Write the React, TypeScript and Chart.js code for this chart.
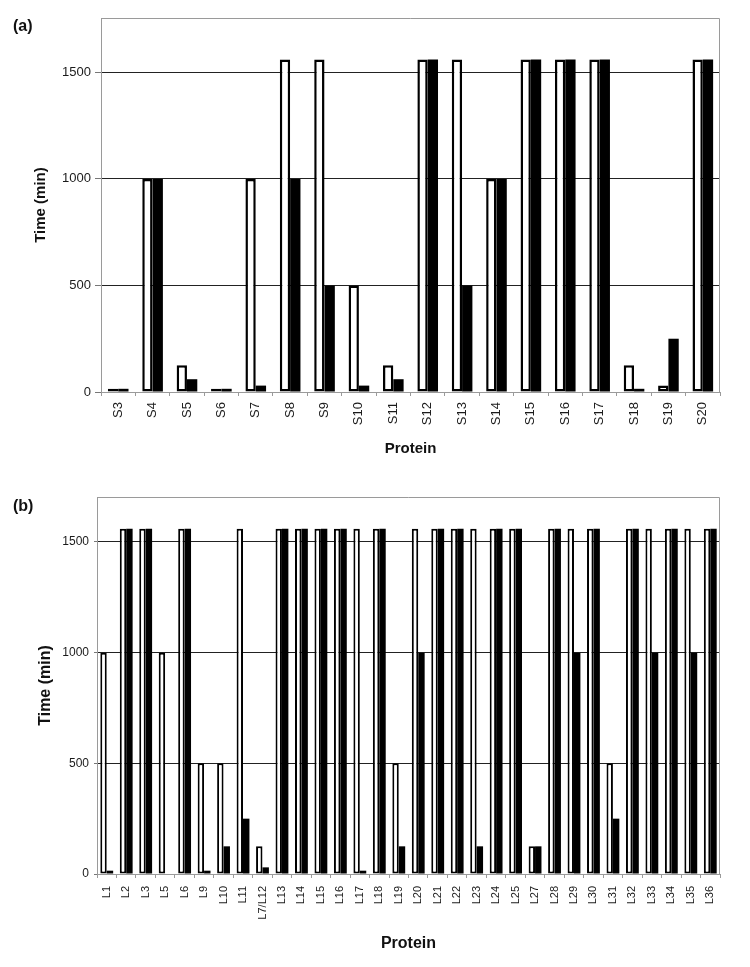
import React, { useEffect, useRef } from "react";
import { Chart, registerables } from "chart.js";

Chart.register(...registerables);

// ---------- data ----------
const smallProteins = ["S3", "S4", "S5", "S6", "S7", "S8", "S9", "S10", "S11", "S12", "S13", "S14", "S15", "S16", "S17", "S18", "S19", "S20"];
const smallWhite = [15, 1000, 125, 15, 1000, 1560, 1560, 500, 125, 1560, 1560, 1000, 1560, 1560, 1560, 125, 30, 1560];
const smallBlack = [15, 1000, 60, 15, 30, 1000, 500, 30, 60, 1560, 500, 1000, 1560, 1560, 1560, 15, 250, 1560];

const largeProteins = ["L1", "L2", "L3", "L5", "L6", "L9", "L10", "L11", "L7/L12", "L13", "L14", "L15", "L16", "L17", "L18", "L19", "L20", "L21", "L22", "L23", "L24", "L25", "L27", "L28", "L29", "L30", "L31", "L32", "L33", "L34", "L35", "L36"];
const largeWhite = [1000, 1560, 1560, 1000, 1560, 500, 500, 1560, 125, 1560, 1560, 1560, 1560, 1560, 1560, 500, 1560, 1560, 1560, 1560, 1560, 1560, 125, 1560, 1560, 1560, 500, 1560, 1560, 1560, 1560, 1560];
const largeBlack = [15, 1560, 1560, 0, 1560, 15, 125, 250, 30, 1560, 1560, 1560, 1560, 15, 1560, 125, 1000, 1560, 1560, 125, 1560, 1560, 125, 1560, 1000, 1560, 250, 1560, 1000, 1560, 1000, 1560];

const yTickValues = [0, 500, 1000, 1500];
const yAxisTitle = "Time (min)";
const xAxisTitle = "Protein";
const panelLabels = ["(a)", "(b)"];

const FONT = "'Liberation Sans', Arial, Helvetica, sans-serif";

const framePlugin = {
  id: "frame",
  beforeDatasetsDraw(chart: any) {
    const { ctx, chartArea: a } = chart;
    ctx.save();
    ctx.strokeStyle = "#9a9a9a";
    ctx.lineWidth = 1;
    ctx.beginPath();
    ctx.moveTo(a.left, Math.round(a.top) + 0.5);
    ctx.lineTo(Math.round(a.right) - 0.5, Math.round(a.top) + 0.5);
    ctx.lineTo(Math.round(a.right) - 0.5, a.bottom);
    ctx.stroke();
    ctx.restore();
  },
};

type PanelCfg = {
  labels: string[];
  white: number[];
  black: number[];
  top: number;
  height: number;
  yMax: number;
  yAxisWidth: number;
  padTop: number;
  padRight: number;
  xAxisHeight: number;
  catPct: number;
  barBorder: number;
  xTickSize: number;
  xTickLen: number;
  xTickPad: number;
  yTickSize: number;
  yTickLen: number;
  yTickPad: number;
  xTitleSize: number;
  xTitlePadBottom: number;
  yTitleSize: number;
  yTitlePadTop: number;
};

function Panel({ cfg }: { cfg: PanelCfg }) {
  const ref = useRef<HTMLCanvasElement>(null);
  useEffect(() => {
    if (!ref.current) return;
    const chart = new Chart(ref.current, {
      type: "bar",
      data: {
        labels: cfg.labels,
        datasets: [
          {
            data: cfg.white,
            backgroundColor: "#ffffff",
            borderColor: "#000000",
            borderWidth: cfg.barBorder,
            borderSkipped: false,
            categoryPercentage: cfg.catPct,
            barPercentage: 1,
          },
          {
            data: cfg.black,
            backgroundColor: "#000000",
            borderColor: "#000000",
            borderWidth: 0,
            borderSkipped: false,
            categoryPercentage: cfg.catPct,
            barPercentage: 1,
          },
        ],
      },
      options: {
        animation: false,
        responsive: false,
        devicePixelRatio: 1,
        layout: { padding: { top: cfg.padTop, right: cfg.padRight, left: 0, bottom: 0 } },
        plugins: {
          legend: { display: false },
          tooltip: { enabled: false },
          title: { display: false },
        },
        scales: {
          x: {
            grid: {
              drawOnChartArea: false,
              drawTicks: true,
              tickLength: cfg.xTickLen,
              color: "#9a9a9a",
              offset: true,
            },
            border: { color: "#9a9a9a", width: 1 },
            ticks: {
              autoSkip: false,
              minRotation: 90,
              maxRotation: 90,
              padding: cfg.xTickPad,
              color: "#1a1a1a",
              font: { family: FONT, size: cfg.xTickSize },
            },
            title: {
              display: true,
              text: xAxisTitle,
              color: "#111111",
              font: { family: FONT, size: cfg.xTitleSize, weight: "bold" },
              padding: { top: 0, bottom: cfg.xTitlePadBottom },
            },
            afterFit: (s: any) => {
              s.height = cfg.xAxisHeight;
            },
          },
          y: {
            min: 0,
            max: cfg.yMax,
            afterBuildTicks: (s: any) => {
              s.ticks = yTickValues.map((v) => ({ value: v }));
            },
            grid: {
              color: (c: any) => (c.tick && c.tick.value === 0 ? "rgba(0,0,0,0)" : "#222222"),
              tickColor: "#777777",
              tickLength: cfg.yTickLen,
              lineWidth: 1,
            },
            border: { color: "#9a9a9a", width: 1 },
            ticks: {
              padding: cfg.yTickPad,
              color: "#1a1a1a",
              font: { family: FONT, size: cfg.yTickSize },
              callback: (v: any) => String(v),
            },
            title: {
              display: true,
              text: yAxisTitle,
              color: "#111111",
              font: { family: FONT, size: cfg.yTitleSize, weight: "bold" },
              padding: { top: cfg.yTitlePadTop, bottom: 0 },
            },
            afterFit: (s: any) => {
              s.width = cfg.yAxisWidth;
            },
          },
        },
      },
      plugins: [framePlugin],
    } as any);
    return () => chart.destroy();
  }, []);
  return (
    <canvas
      ref={ref}
      width={750}
      height={cfg.height}
      style={{ position: "absolute", left: 0, top: cfg.top, width: 750, height: cfg.height }}
    />
  );
}

const panelA: PanelCfg = {
  labels: smallProteins,
  white: smallWhite,
  black: smallBlack,
  top: 0,
  height: 465,
  yMax: 1755,
  yAxisWidth: 101,
  padTop: 18,
  padRight: 30,
  xAxisHeight: 73,
  catPct: 0.6,
  barBorder: 2.5,
  xTickSize: 13,
  xTickLen: 4,
  xTickPad: 6,
  yTickSize: 13,
  yTickLen: 6,
  yTickPad: 4,
  xTitleSize: 15,
  xTitlePadBottom: 7,
  yTitleSize: 15,
  yTitlePadTop: 32,
};

const panelB: PanelCfg = {
  labels: largeProteins,
  white: largeWhite,
  black: largeBlack,
  top: 480,
  height: 487,
  yMax: 1703,
  yAxisWidth: 97,
  padTop: 17,
  padRight: 30,
  xAxisHeight: 93,
  catPct: 0.66,
  barBorder: 2,
  xTickSize: 11,
  xTickLen: 4,
  xTickPad: 8,
  yTickSize: 12,
  yTickLen: 3,
  yTickPad: 5,
  xTitleSize: 16,
  xTitlePadBottom: 14,
  yTitleSize: 16,
  yTitlePadTop: 36,
};

const labelStyle: React.CSSProperties = {
  position: "absolute",
  left: 13,
  fontFamily: FONT,
  fontWeight: "bold",
  fontSize: 16,
  lineHeight: "16px",
  color: "#111",
};

export default function App() {
  return (
    <div style={{ position: "absolute", left: 0, top: 0, width: 750, height: 967, background: "#fff" }}>
      <Panel cfg={panelA} />
      <Panel cfg={panelB} />
      <div style={{ ...labelStyle, top: 18 }}>{panelLabels[0]}</div>
      <div style={{ ...labelStyle, top: 498 }}>{panelLabels[1]}</div>
    </div>
  );
}
